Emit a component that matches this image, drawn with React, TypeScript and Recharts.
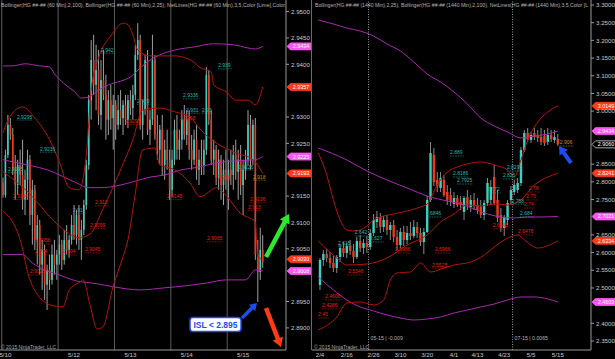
import React from 'react';
import { ComposedChart, Bar, Line, Scatter, XAxis, YAxis, ReferenceLine } from 'recharts';

// colours
const UP = '#3fd0c4';
const DOWN = '#ec3a1c';
const BB100 = '#a82aae';
const BB25 = '#b51409';
const AXIS = '#9a9a9a';
const TEXT = '#c9c9c9';
const FONT = 'Liberation Sans, Arial, sans-serif';

type Pt = [number, number];
type Mark = { v: number; kind: 'bb100' | 'bb25' | 'last' };
type Tag = { i: number; v: number; text: string; kind: 'up' | 'down' | 'last' };

// ============================================
// 60 MIN PANEL (5/10 - 5/15)
// ============================================
// [open, high, low, close], one row per hourly bar
const hourlyBars: number[][] = [
  [2.9175, 2.9185, 2.9147, 2.9152], [2.9152, 2.9238, 2.9147, 2.9228], [2.9228, 2.9304, 2.9222, 2.9285],
  [2.9285, 2.9298, 2.9257, 2.9266], [2.9266, 2.9279, 2.9190, 2.9200], [2.9200, 2.9228, 2.9143, 2.9171],
  [2.9171, 2.9219, 2.9152, 2.9209], [2.9209, 2.9238, 2.9171, 2.9190], [2.9190, 2.9257, 2.9124, 2.9143],
  [2.9143, 2.9200, 2.9114, 2.9181], [2.9181, 2.9238, 2.9143, 2.9219], [2.9219, 2.9228, 2.9095, 2.9114],
  [2.9114, 2.9181, 2.9058, 2.9162], [2.9162, 2.9171, 2.9048, 2.9067], [2.9067, 2.9114, 2.9020, 2.9095],
  [2.9095, 2.9105, 2.9001, 2.9020], [2.9020, 2.9067, 2.8972, 2.9048], [2.9048, 2.9058, 2.8953, 2.8982],
  [2.8982, 2.9020, 2.8934, 2.9010], [2.9010, 2.9039, 2.8972, 2.8991], [2.8991, 2.9058, 2.8982, 2.9039],
  [2.9039, 2.9067, 2.9001, 2.9020], [2.9020, 2.9048, 2.8991, 2.9039], [2.9039, 2.9076, 2.9020, 2.9058],
  [2.9058, 2.9067, 2.9010, 2.9029], [2.9029, 2.9086, 2.9020, 2.9067], [2.9067, 2.9095, 2.9039, 2.9048],
  [2.9048, 2.9076, 2.9033, 2.9067], [2.9067, 2.9114, 2.9058, 2.9095], [2.9095, 2.9133, 2.9067, 2.9076],
  [2.9076, 2.9124, 2.9058, 2.9114], [2.9114, 2.9133, 2.9048, 2.9067], [2.9067, 2.9105, 2.9029, 2.9086],
  [2.9086, 2.9143, 2.9076, 2.9133], [2.9133, 2.9219, 2.9124, 2.9209], [2.9209, 2.9342, 2.9200, 2.9332],
  [2.9332, 2.9446, 2.9295, 2.9408], [2.9408, 2.9456, 2.9342, 2.9361], [2.9361, 2.9437, 2.9313, 2.9389],
  [2.9389, 2.9427, 2.9285, 2.9304], [2.9304, 2.9408, 2.9276, 2.9370], [2.9370, 2.9427, 2.9332, 2.9342],
  [2.9342, 2.9380, 2.9257, 2.9295], [2.9295, 2.9351, 2.9266, 2.9332], [2.9332, 2.9361, 2.9276, 2.9298],
  [2.9298, 2.9342, 2.9238, 2.9323], [2.9323, 2.9332, 2.9257, 2.9285], [2.9285, 2.9342, 2.9276, 2.9313],
  [2.9313, 2.9351, 2.9285, 2.9298], [2.9298, 2.9332, 2.9266, 2.9323], [2.9323, 2.9342, 2.9285, 2.9295],
  [2.9295, 2.9342, 2.9279, 2.9332], [2.9332, 2.9351, 2.9304, 2.9317], [2.9317, 2.9361, 2.9295, 2.9342],
  [2.9342, 2.9437, 2.9332, 2.9418], [2.9418, 2.9478, 2.9408, 2.9446], [2.9446, 2.9456, 2.9276, 2.9285],
  [2.9285, 2.9332, 2.9257, 2.9313], [2.9313, 2.9418, 2.9304, 2.9408], [2.9408, 2.9427, 2.9266, 2.9276],
  [2.9276, 2.9313, 2.9247, 2.9295], [2.9295, 2.9456, 2.9285, 2.9408], [2.9408, 2.9418, 2.9257, 2.9266],
  [2.9266, 2.9304, 2.9219, 2.9238], [2.9238, 2.9285, 2.9209, 2.9276], [2.9276, 2.9304, 2.9190, 2.9209],
  [2.9209, 2.9257, 2.9181, 2.9238], [2.9238, 2.9276, 2.9200, 2.9219], [2.9219, 2.9238, 2.9143, 2.9162],
  [2.9162, 2.9238, 2.9149, 2.9219], [2.9219, 2.9295, 2.9209, 2.9276], [2.9276, 2.9304, 2.9219, 2.9238],
  [2.9238, 2.9276, 2.9219, 2.9257], [2.9257, 2.9313, 2.9238, 2.9295], [2.9295, 2.9323, 2.9257, 2.9266],
  [2.9266, 2.9313, 2.9247, 2.9295], [2.9295, 2.9313, 2.9219, 2.9238], [2.9238, 2.9266, 2.9200, 2.9219],
  [2.9219, 2.9276, 2.9209, 2.9257], [2.9257, 2.9285, 2.9181, 2.9200], [2.9200, 2.9238, 2.9171, 2.9219],
  [2.9219, 2.9257, 2.9190, 2.9209], [2.9209, 2.9257, 2.9190, 2.9238], [2.9238, 2.9395, 2.9228, 2.9380],
  [2.9380, 2.9389, 2.9285, 2.9295], [2.9295, 2.9313, 2.9209, 2.9219], [2.9219, 2.9257, 2.9190, 2.9238],
  [2.9238, 2.9247, 2.9171, 2.9185], [2.9185, 2.9238, 2.9162, 2.9219], [2.9219, 2.9228, 2.9143, 2.9171],
  [2.9171, 2.9219, 2.9133, 2.9200], [2.9200, 2.9238, 2.9162, 2.9181], [2.9181, 2.9219, 2.9124, 2.9200],
  [2.9200, 2.9238, 2.9171, 2.9190], [2.9190, 2.9247, 2.9162, 2.9228], [2.9228, 2.9257, 2.9181, 2.9196],
  [2.9196, 2.9238, 2.9143, 2.9219], [2.9219, 2.9247, 2.9152, 2.9171], [2.9171, 2.9219, 2.9114, 2.9200],
  [2.9200, 2.9238, 2.9181, 2.9219], [2.9219, 2.9313, 2.9209, 2.9285], [2.9285, 2.9304, 2.9200, 2.9219],
  [2.9219, 2.9295, 2.9209, 2.9285], [2.9285, 2.9298, 2.9029, 2.9039], [2.9039, 2.9067, 2.8949, 2.9006],
  [2.9006, 2.9090, 2.8991, 2.9048], [2.9048, 2.9076, 2.9014, 2.9025],
];

const hourlyDateTicks = [1, 29, 52, 75, 98];
const hourlyDateLabels = ['5/10', '5/12', '5/13', '5/14', '5/15'];
const hourlySessionBreaks = [-0.5, 22.5, 45.5, 68.5, 91.5];
// price labels left visible beside the value boxes
const hourlyPriceTicks = [2.89, 2.895, 2.905, 2.91, 2.915, 2.925, 2.93, 2.94, 2.945, 2.95];

// Bollinger(2,100) and Bollinger(2,25): [bar, price]
const hourlyBB100Upper: Pt[] = [[0, 2.9397], [4, 2.9397], [9, 2.9401], [15, 2.9397], [19, 2.9395], [21, 2.9382], [25, 2.9363], [29, 2.9349], [32, 2.9336], [35, 2.9338], [39, 2.9351], [43, 2.9361], [48, 2.9368], [52, 2.9376], [56, 2.9393], [60, 2.9408], [64, 2.9418], [70, 2.9427], [78, 2.9433], [86, 2.9439], [94, 2.9437], [100, 2.9431], [103, 2.9429], [106, 2.9434]];
const hourlyBB100Mid: Pt[] = [[0, 2.9219], [6, 2.9213], [12, 2.9207], [18, 2.92], [24, 2.9188], [30, 2.9175], [35, 2.9166], [40, 2.9166], [46, 2.9169], [53, 2.9177], [60, 2.9186], [66, 2.919], [73, 2.92], [80, 2.9205], [87, 2.9213], [95, 2.9217], [103, 2.9219], [106, 2.9225]];
const hourlyBB100Lower: Pt[] = [[0, 2.9039], [8, 2.9039], [12, 2.9023], [16, 2.9012], [22, 2.9002], [30, 2.8989], [38, 2.8984], [45, 2.8978], [56, 2.8972], [66, 2.8976], [75, 2.898], [83, 2.8985], [91, 2.8991], [99, 2.8991], [103, 2.901], [106, 2.9008]];
const hourlyBB25Upper: Pt[] = [[0, 2.927], [3, 2.9302], [8, 2.9319], [13, 2.9298], [19, 2.9257], [23, 2.9215], [27, 2.9166], [31, 2.9162], [34, 2.9228], [36, 2.9351], [39, 2.9412], [44, 2.9454], [49, 2.9478], [51, 2.9475], [53, 2.9456], [55, 2.9427], [60, 2.9416], [70, 2.9416], [78, 2.9404], [80, 2.9395], [85, 2.9385], [86, 2.9361], [91, 2.9348], [95, 2.9332], [100, 2.9332], [103, 2.9323], [106, 2.9357]];
const hourlyBB25Mid: Pt[] = [[0, 2.9196], [3, 2.9186], [12, 2.9149], [19, 2.9111], [26, 2.9082], [31, 2.9071], [35.5, 2.9078], [41, 2.9128], [48, 2.92], [53, 2.9257], [57, 2.9313], [64, 2.9317], [70, 2.931], [77, 2.9298], [79, 2.9285], [87, 2.9251], [95, 2.9232], [102, 2.9219], [106, 2.9193]];
const hourlyBB25Lower: Pt[] = [[0, 2.9122], [7, 2.9067], [11, 2.8991], [19, 2.8944], [24.5, 2.894], [27, 2.8972], [31.4, 2.8987], [32.7, 2.8991], [35.5, 2.8944], [38.4, 2.8898], [40.8, 2.8902], [44.9, 2.8978], [49, 2.9035], [51, 2.9067], [53.9, 2.9152], [57, 2.9238], [62, 2.9241], [64, 2.9209], [70, 2.92], [76.3, 2.9175], [80.4, 2.9149], [87.3, 2.9166], [91.4, 2.9149], [96.7, 2.9118], [102.9, 2.9101], [104, 2.9035], [105.7, 2.903]];

const hourlyMarks: Mark[] = [
  { v: 2.9434, kind: 'bb100' }, { v: 2.9357, kind: 'bb25' }, { v: 2.9225, kind: 'bb100' },
  { v: 2.9193, kind: 'bb25' }, { v: 2.903, kind: 'bb25' }, { v: 2.9008, kind: 'bb100' },
];

// NetLines price tags
const hourlyTags: Tag[] = [
  { i: 40, v: 2.9427, text: '2.942', kind: 'up' }, { i: 87.8, v: 2.9397, text: '2.939', kind: 'up' },
  { i: 73.5, v: 2.934, text: '2.9336', kind: 'up' }, { i: 74.7, v: 2.9313, text: '2.931', kind: 'up' },
  { i: 81.2, v: 2.9313, text: '2.93', kind: 'up' }, { i: 54.7, v: 2.933, text: '2.929', kind: 'up' },
  { i: 5.7, v: 2.93, text: '2.9295', kind: 'up' }, { i: 49.8, v: 2.9291, text: '2.9293', kind: 'down' },
  { i: 72.2, v: 2.9298, text: '2.9293', kind: 'down' }, { i: 15.1, v: 2.9239, text: '2.9236', kind: 'up' },
  { i: 2, v: 2.92, text: '2.9195', kind: 'up' }, { i: 4.1, v: 2.9149, text: '2.9146', kind: 'down' },
  { i: 66.9, v: 2.9149, text: '2.9145', kind: 'down' }, { i: 87.8, v: 2.9186, text: '2.918', kind: 'down' },
  { i: 102, v: 2.9186, text: '2.918', kind: 'last' }, { i: 100.8, v: 2.9143, text: '2.9136', kind: 'down' },
  { i: 100, v: 2.9128, text: '2.913', kind: 'down' }, { i: 28.6, v: 2.9122, text: '2.91', kind: 'up' },
  { i: 37.6, v: 2.9137, text: '2.913', kind: 'down' }, { i: 35.5, v: 2.9094, text: '2.9099', kind: 'down' },
  { i: 83.3, v: 2.9069, text: '2.9065', kind: 'down' }, { i: 13.1, v: 2.9065, text: '2.9056', kind: 'down' },
  { i: 13.1, v: 2.9044, text: '2.904', kind: 'down' }, { i: 24.5, v: 2.9044, text: '2.904', kind: 'down' },
  { i: 33.5, v: 2.9048, text: '2.9045', kind: 'down' }, { i: 11, v: 2.9006, text: '2.9025', kind: 'down' },
  { i: 95.9, v: 2.9205, text: '2.9226', kind: 'up' },
];

// ============================================
// 1440 MIN PANEL (2/4 - 5/15)
// ============================================
const dailyFirstBar = 2;
const dailyBars: number[][] = [
  [2.5084, 2.5847, 2.4943, 2.5791], [2.5791, 2.6074, 2.5621, 2.596], [2.596, 2.6102, 2.5734, 2.5847],
  [2.5847, 2.6017, 2.5565, 2.5706], [2.5706, 2.5904, 2.5452, 2.5565], [2.5565, 2.5932, 2.5423, 2.5876],
  [2.5876, 2.6243, 2.5734, 2.613], [2.613, 2.63, 2.5876, 2.5989], [2.5989, 2.6271, 2.5847, 2.6187],
  [2.6187, 2.6356, 2.5932, 2.6045], [2.6045, 2.6243, 2.5706, 2.5876], [2.5876, 2.6441, 2.5819, 2.6328],
  [2.6328, 2.6498, 2.6017, 2.613], [2.613, 2.6385, 2.596, 2.6271], [2.6271, 2.6469, 2.5989, 2.6158],
  [2.6158, 2.6667, 2.6074, 2.6554], [2.6554, 2.7091, 2.6469, 2.6922], [2.6865, 2.7176, 2.6696, 2.7007],
  [2.7007, 2.712, 2.6554, 2.6724], [2.6724, 2.7035, 2.6583, 2.6922], [2.6922, 2.7063, 2.6498, 2.6639],
  [2.6639, 2.6865, 2.6356, 2.678], [2.678, 2.6922, 2.63, 2.6441], [2.6441, 2.6639, 2.6074, 2.6215],
  [2.6215, 2.6696, 2.613, 2.6583], [2.6583, 2.6752, 2.6187, 2.6356], [2.6356, 2.6752, 2.6243, 2.6554],
  [2.6554, 2.6865, 2.6356, 2.6469], [2.6469, 2.6922, 2.6413, 2.6724], [2.6724, 2.6865, 2.6413, 2.6554],
  [2.6554, 2.6696, 2.6187, 2.63], [2.63, 2.6696, 2.596, 2.6583], [2.6583, 2.76, 2.6554, 2.7487],
  [2.7487, 2.9127, 2.7431, 2.8816], [2.8759, 2.8957, 2.7883, 2.7996], [2.8053, 2.8279, 2.7713, 2.7883],
  [2.7826, 2.8279, 2.7713, 2.8109], [2.8053, 2.8194, 2.7572, 2.7628], [2.7713, 2.7911, 2.7346, 2.7487],
  [2.7628, 2.7826, 2.7318, 2.7431], [2.7374, 2.7713, 2.7261, 2.7544], [2.7544, 2.7628, 2.7289, 2.7346],
  [2.7431, 2.76, 2.7204, 2.7346], [2.7148, 2.76, 2.6922, 2.7544], [2.7572, 2.777, 2.7204, 2.7346],
  [2.7289, 2.7628, 2.7148, 2.7487], [2.7487, 2.7685, 2.7204, 2.7346], [2.7346, 2.7544, 2.7091, 2.7204],
  [2.7289, 2.7487, 2.6978, 2.7063], [2.7063, 2.7487, 2.6922, 2.7402], [2.7402, 2.8109, 2.7318, 2.7968],
  [2.7487, 2.8053, 2.7346, 2.7855], [2.8138, 2.8477, 2.7346, 2.7402], [2.7487, 2.777, 2.6865, 2.6978],
  [2.7063, 2.7261, 2.6583, 2.6696], [2.6696, 2.7063, 2.6469, 2.7007], [2.6922, 2.7487, 2.678, 2.7402],
  [2.7487, 2.7883, 2.7374, 2.777], [2.7713, 2.8053, 2.7628, 2.7911], [2.777, 2.8109, 2.7685, 2.7968],
  [2.7968, 2.8985, 2.7883, 2.8901], [2.8901, 2.9466, 2.8844, 2.9381], [2.9381, 2.9522, 2.9127, 2.9183],
  [2.9183, 2.9409, 2.9099, 2.9325], [2.9381, 2.9522, 2.9183, 2.9268], [2.9325, 2.9466, 2.9127, 2.924],
  [2.9268, 2.9522, 2.9042, 2.9127], [2.9296, 2.9466, 2.9014, 2.9099], [2.9127, 2.9522, 2.9042, 2.9325],
  [2.9325, 2.9466, 2.9127, 2.9212], [2.9183, 2.9466, 2.9099, 2.9268], [2.9212, 2.9353, 2.9014, 2.906],
];

const dailyDateTicks = [2, 10, 18, 26, 34, 42, 49, 57, 65, 73];
const dailyDateLabels = ['2/4', '2/16', '2/26', '3/10', '3/20', '4/1', '4/13', '4/23', '5/5', '5/15'];
// price labels left visible beside the value boxes
const dailyPriceTicks = [2.35, 2.4, 2.5, 2.55, 2.6, 2.65, 2.75, 2.8, 2.85, 3.0, 3.05, 3.1, 3.15, 3.2, 3.25, 3.3];
const dailyRollovers = [{ i: 16.5, text: '05-15 | -0.009' }, { i: 59.5, text: '07-15 | 0.0065' }];

const dailyBB100Upper: Pt[] = [[1.5, 3.2576], [6, 3.2463], [10, 3.2349], [14, 3.2265], [18, 3.2123], [22, 3.1897], [26, 3.1699], [30, 3.1388], [34, 3.1049], [38, 3.0823], [42, 3.054], [46, 3.0201], [50, 2.9805], [54, 2.9579], [58, 2.9409], [62, 2.924], [66, 2.9296], [70, 2.9353], [73, 2.9434]];
const dailyBB100Mid: Pt[] = [[1.5, 2.8957], [10, 2.8618], [16, 2.8307], [22, 2.8053], [28, 2.7826], [34, 2.76], [40, 2.7459], [44, 2.7374], [48, 2.7233], [52, 2.7091], [56, 2.7007], [60, 2.6978], [64, 2.7007], [68, 2.7007], [73, 2.7021]];
const dailyBB100Lower: Pt[] = [[1.5, 2.531], [6, 2.4943], [10, 2.466], [14, 2.4462], [18, 2.4349], [22, 2.4236], [26, 2.4151], [30, 2.4095], [34, 2.4123], [38, 2.4179], [42, 2.4292], [46, 2.4377], [50, 2.4462], [54, 2.4547], [58, 2.466], [62, 2.4745], [66, 2.4745], [70, 2.4689], [73, 2.4603]];
const dailyBB25Upper: Pt[] = [[1.5, 2.8816], [4, 2.8194], [6, 2.7487], [8, 2.6922], [10, 2.6639], [12, 2.6611], [14, 2.6639], [16, 2.6752], [18, 2.6922], [20, 2.7007], [24, 2.7091], [28, 2.7176], [32, 2.7289], [34, 2.7374], [37, 2.7911], [40, 2.8279], [43, 2.842], [46, 2.8505], [50, 2.8561], [52, 2.8533], [55, 2.8448], [58, 2.8335], [60, 2.8138], [62, 2.8618], [64, 2.9183], [67, 2.9692], [70, 2.9975], [73, 3.0149]];
const dailyBB25Mid: Pt[] = [[1.5, 2.6328], [7, 2.5847], [10, 2.5649], [16, 2.5678], [22, 2.5847], [28, 2.6215], [34, 2.6498], [38, 2.6865], [42, 2.7091], [46, 2.7346], [50, 2.7318], [54, 2.7374], [58, 2.7346], [62, 2.7487], [66, 2.7911], [70, 2.8138], [73, 2.8241]];
const dailyBB25Lower: Pt[] = [[1.5, 2.3812], [7, 2.4179], [10, 2.4575], [14, 2.4604], [18, 2.4519], [21, 2.466], [23, 2.5226], [25, 2.5424], [29, 2.5452], [32, 2.5706], [35, 2.5452], [39, 2.5565], [42, 2.5649], [47, 2.5734], [51, 2.5932], [54, 2.6158], [57, 2.6356], [61, 2.6498], [63, 2.6356], [67, 2.613], [73, 2.6334]];

const dailyMarks: Mark[] = [
  { v: 3.0149, kind: 'bb25' }, { v: 2.9434, kind: 'bb100' }, { v: 2.906, kind: 'last' },
  { v: 2.8241, kind: 'bb25' }, { v: 2.7021, kind: 'bb100' }, { v: 2.6334, kind: 'bb25' },
  { v: 2.4603, kind: 'bb100' },
];

const dailyTags: Tag[] = [
  { i: 40.8, v: 2.8816, text: '2.889', kind: 'up' }, { i: 41.7, v: 2.8222, text: '2.8186', kind: 'up' },
  { i: 42.9, v: 2.8024, text: '2.7925', kind: 'up' }, { i: 57.8, v: 2.8392, text: '2.8295', kind: 'up' },
  { i: 56.6, v: 2.8166, text: '2.826', kind: 'up' }, { i: 51.9, v: 2.777, text: '2.772', kind: 'up' },
  { i: 59.2, v: 2.7458, text: '2.758', kind: 'up' }, { i: 61.7, v: 2.7091, text: '2.684', kind: 'up' },
  { i: 33.6, v: 2.7091, text: '2.6846', kind: 'up' }, { i: 12.4, v: 2.6554, text: '2.642', kind: 'up' },
  { i: 16.9, v: 2.6385, text: '2.627', kind: 'up' }, { i: 7.4, v: 2.6271, text: '2.615', kind: 'up' },
  { i: 61.1, v: 2.6583, text: '2.6476', kind: 'down' }, { i: 64.3, v: 2.7798, text: '2.78', kind: 'down' },
  { i: 63.6, v: 2.7572, text: '2.75', kind: 'down' }, { i: 62.9, v: 2.7346, text: '2.74', kind: 'down' },
  { i: 24.4, v: 2.6074, text: '2.5986', kind: 'down' }, { i: 36.3, v: 2.6074, text: '2.5966', kind: 'down' },
  { i: 53.6, v: 2.6752, text: '2.6945', kind: 'down' }, { i: 35.4, v: 2.5649, text: '2.5525', kind: 'down' },
  { i: 10.4, v: 2.5452, text: '2.5346', kind: 'down' }, { i: 3.5, v: 2.4745, text: '2.4606', kind: 'down' },
  { i: 2.6, v: 2.4491, text: '2.4286', kind: 'down' }, { i: 1.4, v: 2.4236, text: '2.43', kind: 'down' },
  { i: 73.6, v: 2.9099, text: '2.906', kind: 'last' },
];

// ============================================
// helpers
// ============================================
const toTable = (bars: number[][], first: number) =>
  bars.map((b, k) => ({ i: first + k, open: b[0], high: b[1], low: b[2], close: b[3], range: [b[2], b[1]] }));
const toPts = (pts: Pt[]) => pts.map(([i, v]) => ({ i, v }));

const candle = (bodyW: number, wick: string) => (p: any) => {
  const { x, y, width, height, payload } = p;
  if (!payload || x == null || y == null) return <g />;
  const { open, high, low, close } = payload;
  const top = Math.min(y, y + height);
  const h = Math.abs(height);
  // position inside the high-low bar that the library laid out
  const yOf = (v: number) => top + ((high - v) / (high - low || 1)) * h;
  const cx = x + width / 2;
  const bTop = yOf(Math.max(open, close));
  const bH = Math.max(1, yOf(Math.min(open, close)) - bTop);
  return (
    <g>
      <line x1={cx} x2={cx} y1={top} y2={top + h} stroke={wick} strokeWidth={1} />
      <rect x={cx - bodyW / 2} y={bTop} width={bodyW} height={bH} fill={close >= open ? UP : DOWN} />
    </g>
  );
};

const markFill: Record<string, string> = { bb100: '#ff55f6', bb25: '#ff3b1d', last: '#000' };
const marker = (m: Mark) => (lp: any) => {
  const vb = lp.viewBox || {};
  const x0 = vb.x + vb.width + 1;
  const cy = vb.y;
  const fill = markFill[m.kind];
  const pts = `${x0},${cy} ${x0 + 3.5},${cy - 3.5} ${x0 + 24},${cy - 3.5} ${x0 + 24},${cy + 3.5} ${x0 + 3.5},${cy + 3.5}`;
  return (
    <g>
      <polygon points={pts} fill={fill} stroke={m.kind === 'last' ? '#d8d8d8' : fill} strokeWidth={0.8} />
      <text x={x0 + 14} y={cy + 2} textAnchor="middle" fontSize={5.4} fill="#fff" fontFamily={FONT}>
        {m.v.toFixed(4)}
      </text>
    </g>
  );
};

const tagFill: Record<string, string> = { up: '#2fb3aa', down: '#e2200f', last: '#d78b12' };
const tagShape = (p: any) => {
  const { cx, cy, payload } = p;
  if (cx == null || !payload) return <g />;
  const c = tagFill[payload.kind];
  const w = payload.text.length * 2.7;
  return (
    <g>
      <text x={cx} y={cy + 1.5} fontSize={5} fill={c} fontFamily={FONT}>{payload.text}</text>
      <line x1={cx} x2={cx + w} y1={cy + 3} y2={cy + 3} stroke={c} strokeWidth={0.7} strokeDasharray="0.8 0.8" />
    </g>
  );
};

const rollLabel = (text: string) => (lp: any) => {
  const vb = lp.viewBox || {};
  return (
    <text x={vb.x + 2} y={vb.y + vb.height - 10} fontSize={5.2} fill="#b4b4b4" fontFamily={FONT}>{text}</text>
  );
};

function PricePanel(props: any) {
  const { width, yAxisWidth, table, xDomain, yDomain, priceTicks, dateTicks, dateLabels, bands, tags, marks, bodyW, wick, breaks, rolls } = props;
  return (
    <ComposedChart width={width} height={359} data={table} margin={{ top: 0, right: 0, bottom: 0, left: 0 }}>
      <XAxis
        dataKey="i" type="number" domain={xDomain} allowDataOverflow ticks={dateTicks} interval={0}
        tickFormatter={(v: number) => dateLabels[dateTicks.indexOf(v)] ?? ''}
        height={9} tickSize={0} tickMargin={3}
        tick={{ fill: TEXT, fontSize: 6.2, fontFamily: FONT }} axisLine={{ stroke: AXIS }}
      />
      <YAxis
        orientation="right" type="number" domain={yDomain} allowDataOverflow ticks={priceTicks} interval={0}
        tickFormatter={(v: number) => v.toFixed(4)} width={yAxisWidth} tickSize={3} tickMargin={2}
        tick={{ fill: TEXT, fontSize: 6.2, fontFamily: FONT }} axisLine={{ stroke: AXIS }} tickLine={{ stroke: AXIS }}
      />
      {breaks.map((b: number) => <ReferenceLine key={'b' + b} x={b} stroke="#5c5c5c" />)}
      {rolls.map((r: any) => (
        <ReferenceLine key={'r' + r.i} x={r.i} stroke="#a0a0a0" strokeDasharray="1 1.5" label={rollLabel(r.text)} />
      ))}
      <Bar dataKey="range" barSize={2} shape={candle(bodyW, wick)} isAnimationActive={false} />
      {bands.map((b: any, k: number) => (
        <Line key={'l' + k} data={toPts(b.pts)} dataKey="v" type="monotone" stroke={b.color} strokeWidth={1} dot={false} activeDot={false} isAnimationActive={false} />
      ))}
      <Scatter data={tags} dataKey="v" shape={tagShape} isAnimationActive={false} />
      {marks.map((m: Mark) => <ReferenceLine key={'m' + m.v} y={m.v} stroke="none" label={marker(m)} />)}
    </ComposedChart>
  );
}

function arrow(x1: number, y1: number, x2: number, y2: number, w: number, hw: number, hl: number) {
  const dx = x2 - x1, dy = y2 - y1, L = Math.hypot(dx, dy);
  const ux = dx / L, uy = dy / L, px = -uy, py = ux;
  const bx = x2 - ux * hl, by = y2 - uy * hl;
  return [
    [x1 + px * w / 2, y1 + py * w / 2], [bx + px * w / 2, by + py * w / 2], [bx + px * hw / 2, by + py * hw / 2],
    [x2, y2], [bx - px * hw / 2, by - py * hw / 2], [bx - px * w / 2, by - py * w / 2], [x1 - px * w / 2, y1 - py * w / 2],
  ].map((p) => p.join(',')).join(' ');
}

export default function App() {
  return (
    <div style={{ position: 'fixed', left: 0, top: 0, width: 615, height: 359, background: '#000', overflow: 'hidden' }}>
      <div style={{ position: 'absolute', left: 0, top: 0 }}>
        <PricePanel
          width={312} yAxisWidth={26} table={toTable(hourlyBars, 0)} xDomain={[-1.22, 115.5]} yDomain={[2.8858, 2.9522]}
          priceTicks={hourlyPriceTicks} dateTicks={hourlyDateTicks} dateLabels={hourlyDateLabels}
          bands={[
            { pts: hourlyBB100Upper, color: BB100 }, { pts: hourlyBB100Mid, color: BB100 }, { pts: hourlyBB100Lower, color: BB100 },
            { pts: hourlyBB25Upper, color: BB25 }, { pts: hourlyBB25Mid, color: BB25 }, { pts: hourlyBB25Lower, color: BB25 },
          ]}
          tags={hourlyTags} marks={hourlyMarks} bodyW={1.6} wick="#a0a0a0" breaks={hourlySessionBreaks} rolls={[]}
        />
      </div>
      <div style={{ position: 'absolute', left: 312, top: 0 }}>
        <PricePanel
          width={303} yAxisWidth={24} table={toTable(dailyBars, dailyFirstBar)} xDomain={[-0.39, 82.9]} yDomain={[2.3246, 3.3141]}
          priceTicks={dailyPriceTicks} dateTicks={dailyDateTicks} dateLabels={dailyDateLabels}
          bands={[
            { pts: dailyBB100Upper, color: BB100 }, { pts: dailyBB100Mid, color: BB100 }, { pts: dailyBB100Lower, color: BB100 },
            { pts: dailyBB25Upper, color: BB25 }, { pts: dailyBB25Mid, color: BB25 }, { pts: dailyBB25Lower, color: BB25 },
          ]}
          tags={dailyTags} marks={dailyMarks} bodyW={2.4} wick="#8a8a8a" breaks={[]} rolls={dailyRollovers}
        />
      </div>
      <svg width={615} height={359} style={{ position: 'absolute', left: 0, top: 0, pointerEvents: 'none' }}>
        <line x1={311.5} x2={311.5} y1={0} y2={350} stroke="#6a6a6a" />
        <text x={1} y={7} fontSize={5} fill="#b4b4b4" fontFamily={FONT} textLength={284} lengthAdjust="spacingAndGlyphs">
          Bollinger(HG ##-## (60 Min),2,100), Bollinger(HG ##-## (60 Min),2,25), NetLines(HG ##-## (60 Min),3,5,Color [Lime],Color
        </text>
        <text x={315} y={7} fontSize={5} fill="#b4b4b4" fontFamily={FONT} textLength={273} lengthAdjust="spacingAndGlyphs">
          Bollinger(HG ##-## (1440 Min),2,25), Bollinger(HG ##-## (1440 Min),2,100), NetLines(HG ##-## (1440 Min),3,5,Color [L
        </text>
        <text x={1} y={348.5} fontSize={5} fill="#a8a8a8" fontFamily={FONT}>© 2015 NinjaTrader, LLC</text>
        <text x={314} y={348.5} fontSize={5} fill="#a8a8a8" fontFamily={FONT}>© 2015 NinjaTrader, LLC</text>
        <polygon points={arrow(266, 257, 289, 214, 4.5, 11, 9)} fill="#2ee82e" />
        <polygon points={arrow(242, 318, 257, 303, 3.5, 9, 7)} fill="#1d4cf0" />
        <polygon points={arrow(266, 308, 281, 347, 4.5, 11, 9)} fill="#ff3a14" />
        <polygon points={arrow(571, 163, 559, 146, 4, 10, 8)} fill="#1d4cf0" />
        <rect x={190} y={317.5} width={51} height={14} rx={3} fill="#fff" stroke="#1d4cf0" strokeWidth={1.5} />
        <text x={215.5} y={327.5} textAnchor="middle" fontSize={8.5} fontWeight={600} fill="#1d4cf0" fontFamily={FONT}>
          ISL &lt; 2.895
        </text>
      </svg>
    </div>
  );
}
